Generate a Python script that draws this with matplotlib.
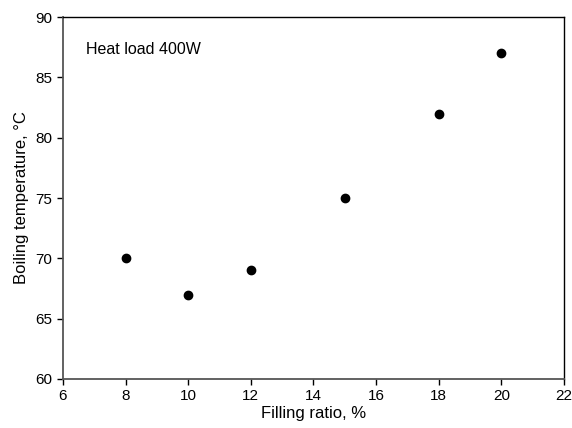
import matplotlib
matplotlib.use("Agg")
import matplotlib.pyplot as plt

plt.rcParams['font.family'] = ['Liberation Sans', 'DejaVu Sans']

# Filling ratio (%) vs boiling temperature (C), heat load 400 W
filling = [8, 10, 12, 15, 18, 20]
boiling = [70, 67, 69, 75, 82, 87]

fig = plt.figure(figsize=(5.72, 4.28), dpi=100)
ax = fig.add_axes([0.110, 0.1145, 0.876, 0.8455])

ax.scatter(filling, boiling, s=36, color='black', zorder=3)

ax.set_xlim(6, 22)
ax.set_ylim(60, 90)
ax.set_xticks(range(6, 23, 2))
ax.set_yticks(range(60, 91, 5))
ax.tick_params(direction='out', length=4, width=1, labelsize=11, colors='black')
for side in ('left', 'bottom'):
    ax.spines[side].set_color('#555555')
    ax.spines[side].set_linewidth(1.3)
for side in ('top', 'right'):
    ax.spines[side].set_color('black')
    ax.spines[side].set_linewidth(1.0)

ax.set_xlabel("Filling ratio, %", fontsize=12, labelpad=2)
ax.set_ylabel("Boiling temperature, \u00b0C", fontsize=12, labelpad=5)
ax.text(0.047, 0.91, "Heat load 400W", transform=ax.transAxes, fontsize=11.5, va='center')

fig.savefig("out.png", dpi=100)
